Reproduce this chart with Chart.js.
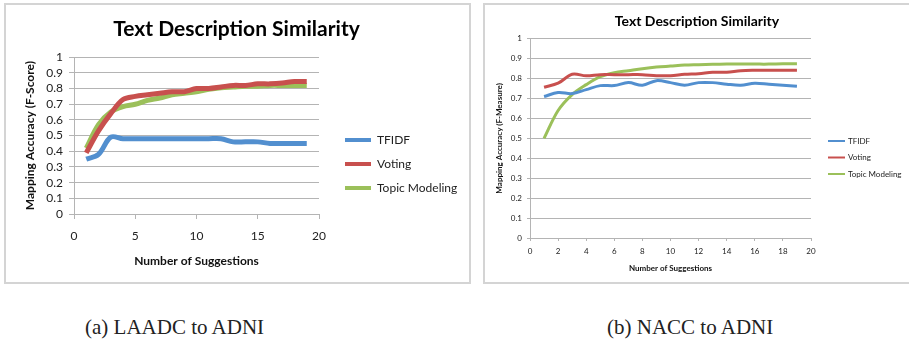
<!DOCTYPE html>
<html>
<head>
<meta charset="utf-8">
<script src="https://cdn.jsdelivr.net/npm/chart.js@4.4.1/dist/chart.umd.min.js"></script>
<style>
  body { margin: 0; background: #fff; width: 909px; height: 340px; position: relative; overflow: hidden; }
  .frame { position: absolute; border: 2px solid #d4d4d4; box-sizing: border-box; }
  canvas { position: absolute; }
  .cap { position: absolute; top: 315px; font-family: "Liberation Serif", serif; font-size: 21px; color: #222; white-space: nowrap; }
</style>
</head>
<body>
<div class="frame" style="left:4px;top:3px;width:467px;height:281px"></div>
<div class="frame" style="left:483px;top:3px;width:430px;height:281px"></div>
<canvas id="left" width="463" height="278" style="left:5px;top:4px"></canvas>
<canvas id="right" width="424" height="278" style="left:485px;top:4px"></canvas>
<div class="cap" style="left:85px">(a) LAADC to ADNI</div>
<div class="cap" style="left:607px">(b) NACC to ADNI</div>
<script>
const suggestions = [1, 2, 3, 4, 5, 6, 7, 8, 9, 10, 11, 12, 13, 14, 15, 16, 17, 18, 19];
const seriesNames = ['TFIDF', 'Voting', 'Topic Modeling'];
const colors = ['#528fcf', '#c8504e', '#9bc05a'];

// (a) LAADC to ADNI
const laadcTfidf = [0.35, 0.38, 0.49, 0.48, 0.48, 0.48, 0.48, 0.48, 0.48, 0.48, 0.48, 0.48, 0.46, 0.46, 0.46, 0.45, 0.45, 0.45, 0.45];
const laadcVoting = [0.39, 0.53, 0.64, 0.73, 0.75, 0.76, 0.77, 0.78, 0.78, 0.80, 0.80, 0.81, 0.82, 0.82, 0.83, 0.83, 0.835, 0.845, 0.845];
const laadcTopic = [0.42, 0.57, 0.65, 0.685, 0.70, 0.725, 0.74, 0.76, 0.77, 0.78, 0.795, 0.805, 0.81, 0.815, 0.815, 0.82, 0.82, 0.82, 0.82];

// (b) NACC to ADNI
const naccTfidf = [0.71, 0.73, 0.725, 0.745, 0.765, 0.765, 0.78, 0.767, 0.79, 0.78, 0.767, 0.78, 0.78, 0.772, 0.767, 0.777, 0.772, 0.767, 0.762];
const naccVoting = [0.757, 0.777, 0.822, 0.814, 0.82, 0.82, 0.82, 0.82, 0.815, 0.815, 0.822, 0.825, 0.832, 0.832, 0.84, 0.842, 0.842, 0.842, 0.842];
const naccTopic = [0.50, 0.64, 0.72, 0.77, 0.81, 0.83, 0.84, 0.85, 0.858, 0.863, 0.868, 0.87, 0.872, 0.873, 0.873, 0.873, 0.873, 0.875, 0.875];

const yTicks = [0, 0.1, 0.2, 0.3, 0.4, 0.5, 0.6, 0.7, 0.8, 0.9, 1];

// excel style legend: short line sample + label, drawn in the space reserved on the right
const lineLegend = {
  id: 'lineLegend',
  afterDraw(chart, args, o) {
    const ctx = chart.ctx;
    ctx.save();
    ctx.font = o.size + 'px Lato';
    ctx.textBaseline = 'middle';
    chart.data.datasets.forEach((ds, i) => {
      const y = o.y + i * o.step;
      ctx.strokeStyle = ds.borderColor;
      ctx.lineWidth = o.width;
      ctx.beginPath();
      ctx.moveTo(o.x, y);
      ctx.lineTo(o.x + o.len, y);
      ctx.stroke();
      ctx.fillStyle = '#222';
      ctx.fillText(ds.label, o.x + o.len + o.gap, y);
    });
    ctx.restore();
  }
};

function makeChart(id, values, s) {
  const datasets = values.map((vals, i) => ({
    label: seriesNames[i],
    data: suggestions.map((x, j) => ({ x: x, y: vals[j] })),
    borderColor: colors[i],
    backgroundColor: colors[i],
    borderWidth: s.line,
    pointRadius: 0,
    tension: 0.35,
    yAxisID: 'y'
  }));
  const gridColor = '#b4b4b4';
  return new Chart(document.getElementById(id), {
    type: 'line',
    data: { datasets: datasets },
    plugins: [lineLegend],
    options: {
      responsive: false,
      animation: false,
      layout: { padding: 0 },
      plugins: {
        title: {
          display: true,
          text: 'Text Description Similarity',
          color: '#000',
          font: { family: 'Lato', size: s.title, weight: 'bold' },
          padding: { top: s.titleTop, bottom: s.titleBottom }
        },
        legend: { display: false },
        lineLegend: s.legend,
        tooltip: { enabled: false }
      },
      scales: {
        x: {
          type: 'linear',
          min: 0,
          max: 20,
          ticks: { stepSize: s.xStep, color: '#222', padding: s.xTickPad, font: { family: 'Lato', size: s.tick } },
          grid: { drawOnChartArea: false, drawTicks: true, tickLength: s.tickLen, color: gridColor },
          border: { display: true, color: gridColor },
          title: {
            display: true,
            text: 'Number of Suggestions',
            color: '#111',
            font: { family: 'Lato', size: s.axisTitle, weight: 'bold' },
            padding: { top: 0, bottom: s.xTitleBottom }
          },
          afterFit: (sc) => { sc.height = s.xHeight; }
        },
        y: {
          type: 'linear',
          position: 'left',
          min: 0,
          max: 1,
          afterBuildTicks: (sc) => { sc.ticks = yTicks.map(v => ({ value: v })); },
          ticks: {
            autoSkip: false,
            color: '#222',
            padding: s.yTickPad,
            font: { family: 'Lato', size: s.tick },
            callback: (v) => String(v)
          },
          grid: { color: gridColor, tickLength: s.tickLen },
          border: { display: true, color: gridColor },
          title: {
            display: true,
            text: s.yTitle,
            color: '#111',
            font: { family: 'Lato', size: s.axisTitle, weight: 'bold' },
            padding: { top: s.yTitleLeft, bottom: 0 }
          },
          afterFit: (sc) => { sc.width = s.yWidth; }
        },
        // empty axis that only keeps room for the legend
        legendRoom: {
          type: 'linear',
          axis: 'y',
          position: 'right',
          grid: { display: false },
          border: { display: false },
          ticks: { display: false },
          afterFit: (sc) => { sc.width = s.legendRoom; }
        }
      }
    }
  });
}

makeChart('left', [laadcTfidf, laadcVoting, laadcTopic], {
  line: 5, title: 21, titleTop: 13, titleBottom: 15,
  tick: 12, tickLen: 5, xStep: 5, xTickPad: 10, yTickPad: 6,
  axisTitle: 12, xTitleBottom: 14, xHeight: 68, yWidth: 69, yTitleLeft: 18, legendRoom: 149,
  yTitle: 'Mapping Accuracy (F-Score)',
  legend: { x: 340, y: 136, step: 24, len: 26, gap: 6, width: 4, size: 12 }
});

makeChart('right', [naccTfidf, naccVoting, naccTopic], {
  line: 3, title: 14, titleTop: 9, titleBottom: 9,
  tick: 8, tickLen: 3, xStep: 2, xTickPad: 6, yTickPad: 5,
  axisTitle: 8, xTitleBottom: 9, xHeight: 44, yWidth: 45, yTitleLeft: 10, legendRoom: 98,
  yTitle: 'Mapping Accuracy (F-Measure)',
  legend: { x: 343, y: 137, step: 16.5, len: 17, gap: 3, width: 2, size: 8 }
});
</script>
</body>
</html>
